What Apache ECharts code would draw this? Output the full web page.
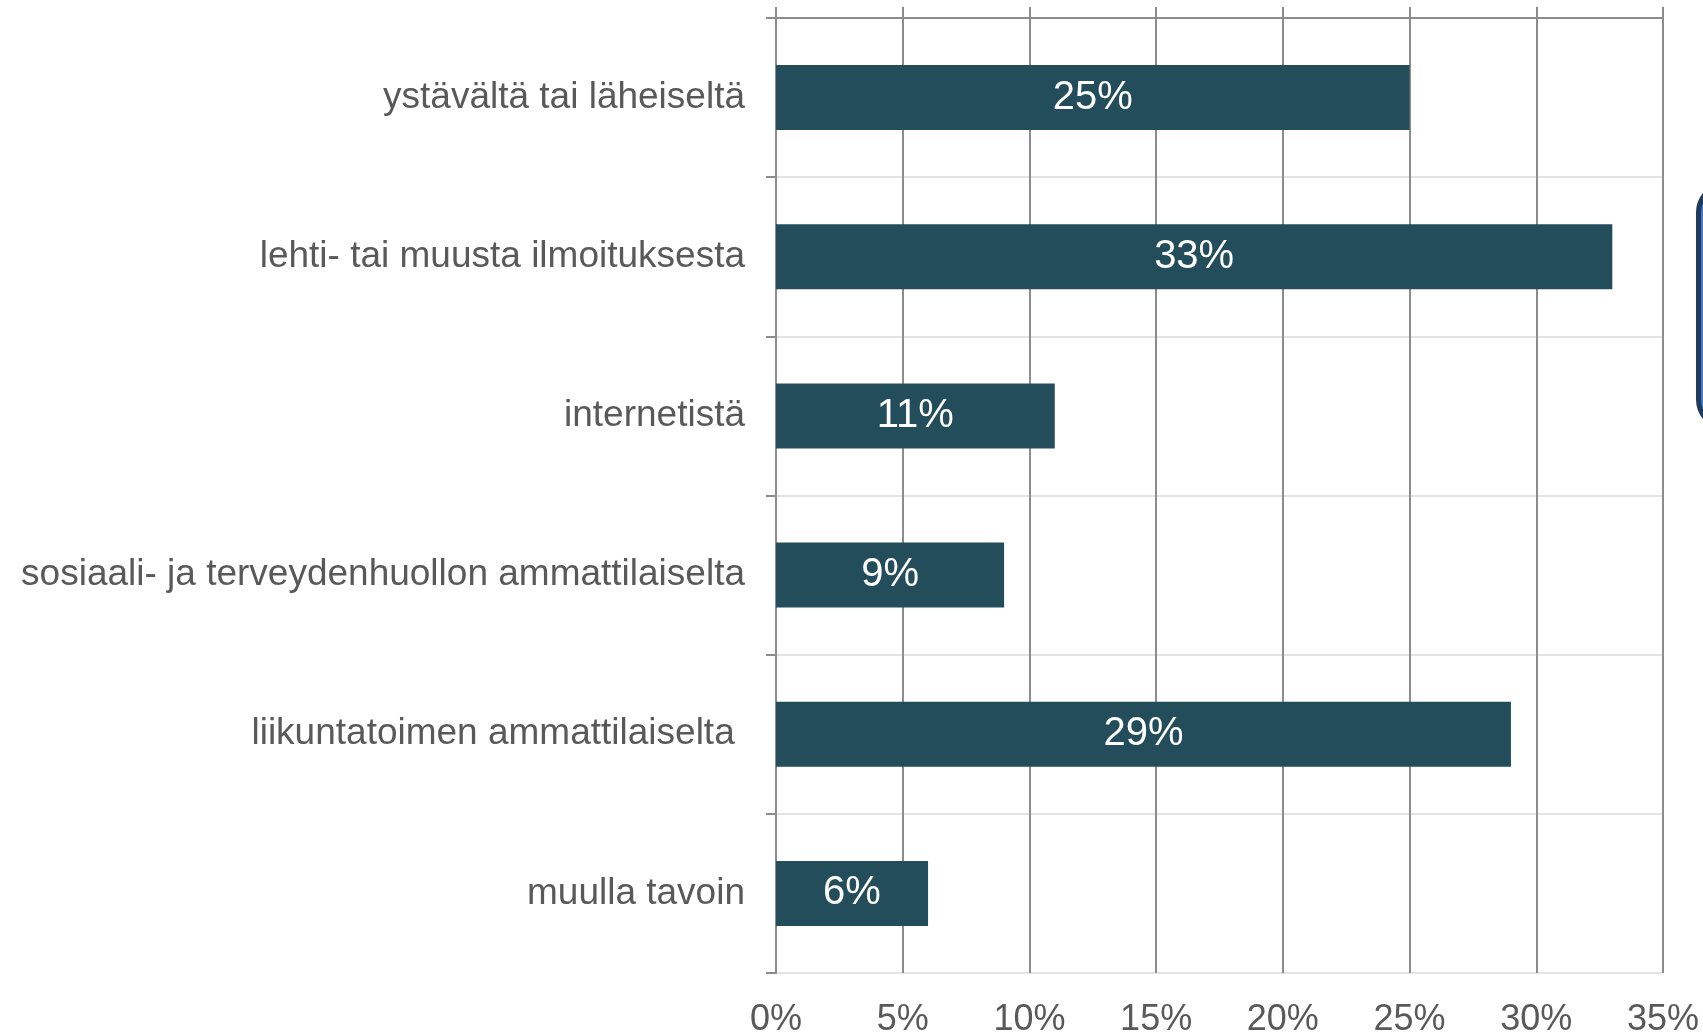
<!DOCTYPE html>
<html>
<head>
<meta charset="utf-8">
<script src="https://cdn.jsdelivr.net/npm/echarts@6/dist/echarts.min.js"></script>
<style>
html,body{margin:0;padding:0;background:#fff;}
#chart{width:1703px;height:1034px;}
</style>
</head>
<body>
<div id="chart"></div>
<script>
var categories = [
  "ystävältä tai läheiseltä",
  "lehti- tai muusta ilmoituksesta",
  "internetistä",
  "sosiaali- ja terveydenhuollon ammattilaiselta",
  "liikuntatoimen ammattilaiselta ",
  "muulla tavoin"
];
var values = [25, 33, 11, 9, 29, 6];
var axisMin = 0, axisMax = 35, axisStep = 5;

var FONT = "'Liberation Sans', Arial, sans-serif";
var chart = echarts.init(document.getElementById('chart'), null, {renderer: 'canvas'});
chart.setOption({
  animation: false,
  backgroundColor: '#ffffff',
  grid: {left: 776, right: 40, top: 18, bottom: 61, containLabel: false, outerBoundsMode: 'none'},
  xAxis: [{
    type: 'value', position: 'top', min: axisMin, max: axisMax, interval: axisStep,
    axisLine: {show: true, lineStyle: {color: '#8c8c8c', width: 2}},
    axisTick: {show: true, inside: false, length: 11, lineStyle: {color: '#8c8c8c', width: 2}},
    axisLabel: {show: false},
    splitLine: {show: true, lineStyle: {color: '#8c8c8c', width: 2}}
  }, {
    type: 'value', position: 'bottom', min: axisMin, max: axisMax, interval: axisStep,
    axisLine: {show: false}, axisTick: {show: false},
    splitLine: {show: false},
    axisLabel: {show: true, formatter: '{value}%', fontSize: 36, color: '#595959', fontFamily: FONT, margin: 29}
  }],
  yAxis: {
    type: 'category', data: categories, inverse: true,
    axisLine: {show: true, lineStyle: {color: '#8c8c8c', width: 2}},
    axisTick: {show: true, length: 10, lineStyle: {color: '#8c8c8c', width: 2}},
    splitLine: {show: true, lineStyle: {color: '#e3e3e3', width: 2}},
    axisLabel: {fontSize: 37, color: '#595959', fontFamily: FONT, margin: 31}
  },
  series: [{
    type: 'bar', data: values, xAxisIndex: 0, barWidth: 65,
    itemStyle: {color: '#234d5b'},
    label: {show: true, position: 'inside', formatter: '{c}%', color: '#ffffff', fontSize: 40, fontFamily: FONT}
  }],
  graphic: [{
    type: 'rect', left: 1696, top: 182,
    shape: {width: 60, height: 243, r: 28},
    style: {fill: '#4a78c4', stroke: '#1e3a5c', lineWidth: 5}
  }]
});
</script>
</body>
</html>
